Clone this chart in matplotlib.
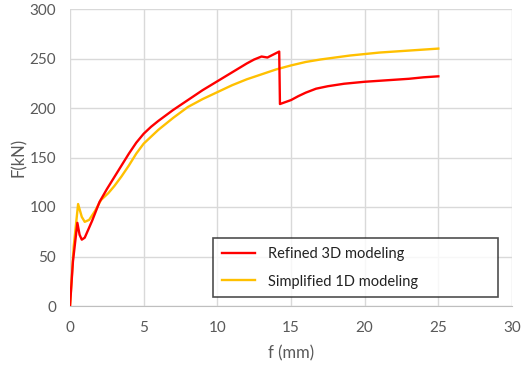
import matplotlib
matplotlib.use("Agg")
import matplotlib.pyplot as plt

# Data
refined_x = [0, 0.2, 0.5, 0.65, 0.8, 1.0, 1.5, 2.0, 2.5, 3.0, 3.5, 4.0, 4.5, 5.0, 5.5, 6.0, 7.0, 8.0, 9.0, 10.0, 11.0, 12.0, 12.5, 13.0, 13.4, 13.8, 14.2,
             14.25, 15.0, 15.5, 16.0, 16.7, 17.5, 18.6, 20.0, 21.0, 22.0, 23.0, 24.0, 25.0]
refined_y = [0, 45, 84, 72, 67, 69, 86, 105, 118, 130, 142, 154, 165, 174, 181, 187, 198, 208, 218, 227, 236, 245, 249, 252, 251, 254, 257,
             204, 208, 212, 215.5, 219.5, 222, 224.5, 226.5, 227.5, 228.5, 229.5, 231, 232]

simplified_x = [0, 0.25, 0.55, 0.8, 1.0, 1.3, 1.7, 2.1, 2.6, 3.0, 3.5, 4.0, 4.5, 5.0, 6.0, 7.0, 8.0, 9.0, 10.0, 11.0, 12.0, 13.0, 14.0, 15.0,
                16.0, 17.0, 18.0, 19.0, 20.0, 21.0, 22.0, 23.0, 24.0, 25.0]
simplified_y = [0, 60, 103, 90, 85, 87, 96, 107, 114, 121, 131, 142, 154, 164, 178, 190, 201, 209, 216, 223, 229, 234, 239, 243,
                246.5, 249, 251, 253, 254.5, 256, 257, 258, 259, 260]

labels = ["Refined 3D modeling", "Simplified 1D modeling"]
x_ticks = [0, 5, 10, 15, 20, 25, 30]
y_ticks = [0, 50, 100, 150, 200, 250, 300]

plt.rcParams['font.family'] = ['Lato', 'DejaVu Sans']

fig = plt.figure(figsize=(5.32, 3.74), dpi=100)
ax = fig.add_axes([70/532, 68/374, 442/532, 297/374])

ax.plot(refined_x, refined_y, color='#FF0000', lw=1.7, label=labels[0], zorder=3)
ax.plot(simplified_x, simplified_y, color='#FFC000', lw=1.7, label=labels[1], zorder=2)

ax.set_xlim(0, 30)
ax.set_ylim(0, 300)
ax.set_xticks(x_ticks)
ax.set_yticks(y_ticks)
ax.grid(True, color='#d9d9d9', lw=1.0)
ax.set_axisbelow(True)
for s in ['top', 'right', 'left']:
    ax.spines[s].set_visible(False)
ax.spines['bottom'].set_color('#bfbfbf')
ax.tick_params(length=0, labelsize=11, colors='#595959')
ax.tick_params(axis='x', pad=11)
ax.tick_params(axis='y', pad=10)

ax.set_xlabel('f (mm)', fontsize=12, color='#595959', labelpad=7)
ax.set_ylabel('F(kN)', fontsize=12, color='#595959', labelpad=2)

leg = ax.legend(loc='upper left', bbox_to_anchor=(143/442, 68/297, 285/442, 0.0), mode='expand',
                frameon=True, fancybox=False, fontsize=10.5, handlelength=2.3,
                borderpad=0.6, labelspacing=0.95, borderaxespad=0, handletextpad=0.9)
leg.get_frame().set_edgecolor('#222222')
leg.get_frame().set_linewidth(1.2)
for t in leg.get_texts():
    t.set_color('#222222')

fig.savefig('out.png', dpi=100)
